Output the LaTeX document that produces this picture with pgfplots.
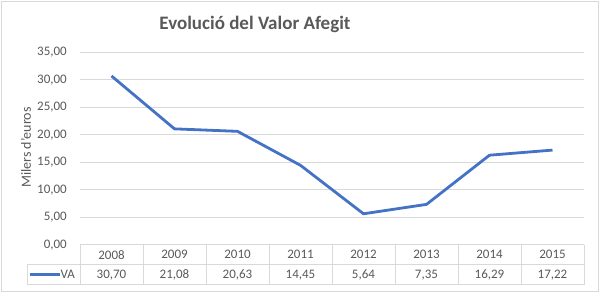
\documentclass[border=0pt]{standalone}
\usepackage{pgfplots}
\pgfplotsset{compat=1.18}
\usepackage{fontspec}
\setmainfont{Carlito}
\definecolor{txt}{HTML}{595959}
\definecolor{grd}{HTML}{D9D9D9}
\definecolor{va}{HTML}{4472C4}
\tikzset{tbl/.style={text=txt, font=\fontsize{13bp}{15bp}\selectfont}}
\begin{document}
\begin{tikzpicture}
\useasboundingbox (0,0) rectangle (600bp,293bp);
\draw[grd, line width=0.9bp] (1bp,2bp) rectangle (598bp,292bp);
\node[anchor=base, text=txt, font=\fontsize{19bp}{22bp}\selectfont\bfseries] at (255bp,263bp) {Evolució del Valor Afegit};
\node[rotate=90, text=txt, font=\fontsize{14bp}{16bp}\selectfont] at (26bp,145.5bp) {Milers d'euros};
\begin{axis}[
  at={(80bp,48.2bp)}, anchor=south west,
  width=504bp, height=192.5bp, scale only axis,
  xmin=-0.5, xmax=7.5, ymin=0, ymax=35,
  ytick={0,5,...,35}, xtick=\empty,
  axis line style={draw=none},
  ymajorgrids, grid style={grd, line width=0.9bp},
  major tick length=0pt,
  clip=false,
  yticklabel style={anchor=east, inner sep=0pt, xshift=-13bp, text=txt, font=\fontsize{13bp}{15bp}\selectfont},
  /pgf/number format/.cd, fixed, fixed zerofill, precision=2, use comma, 1000 sep={}, assume math mode=true,
]
\addplot[va, line width=2.8bp, line join=round] coordinates {
(0,30.70) (1,21.08) (2,20.63) (3,14.45) (4,5.64) (5,7.35) (6,16.29) (7,17.22)};
% data table
\draw[grd, line width=0.9bp] (axis cs:-0.5,0) -- (axis cs:7.5,0);
\draw[grd, line width=0.9bp] (axis cs:-1.341,-3.636) -- (axis cs:7.5,-3.636);
\draw[grd, line width=0.9bp] (axis cs:-1.341,-7.27) -- (axis cs:7.5,-7.27);
\draw[grd, line width=0.9bp] (axis cs:-1.341,-3.636) -- (axis cs:-1.341,-7.27);
\pgfplotsinvokeforeach{-0.5,0.5,1.5,2.5,3.5,4.5,5.5,6.5,7.5}{
  \draw[grd, line width=0.9bp] (axis cs:#1,0) -- (axis cs:#1,-7.27);
}
\node[tbl] at (axis cs:0,-1.82) {2008};
\node[tbl] at (axis cs:1,-1.82) {2009};
\node[tbl] at (axis cs:2,-1.82) {2010};
\node[tbl] at (axis cs:3,-1.82) {2011};
\node[tbl] at (axis cs:4,-1.82) {2012};
\node[tbl] at (axis cs:5,-1.82) {2013};
\node[tbl] at (axis cs:6,-1.82) {2014};
\node[tbl] at (axis cs:7,-1.82) {2015};
\node[tbl] at (axis cs:0,-5.45) {30,70};
\node[tbl] at (axis cs:1,-5.45) {21,08};
\node[tbl] at (axis cs:2,-5.45) {20,63};
\node[tbl] at (axis cs:3,-5.45) {14,45};
\node[tbl] at (axis cs:4,-5.45) {5,64};
\node[tbl] at (axis cs:5,-5.45) {7,35};
\node[tbl] at (axis cs:6,-5.45) {16,29};
\node[tbl] at (axis cs:7,-5.45) {17,22};
\draw[va, line width=2.8bp] (axis cs:-1.293,-5.45) -- (axis cs:-0.817,-5.45);
\node[anchor=west, inner sep=0pt, tbl] at (axis cs:-0.81,-5.45) {VA};
\end{axis}
\end{tikzpicture}
\end{document}
